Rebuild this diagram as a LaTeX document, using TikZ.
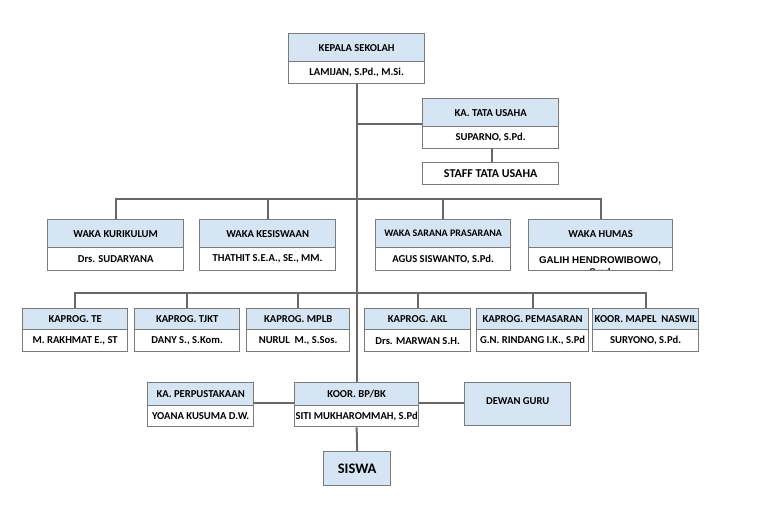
\documentclass[tikz,border=0pt]{standalone}
\usepackage{fontspec}
\setmainfont{Carlito}
\newfontfamily\arialfont{Liberation Sans}
\definecolor{hdr}{HTML}{D5E5F3}
\definecolor{bdr}{HTML}{7A7A7A}
\definecolor{lnc}{HTML}{686868}
\tikzset{
  boxpart/.style={draw=bdr, line width=1.3pt, inner sep=0pt, anchor=north west, align=center, font=\fontsize{10.6}{12}\selectfont\bfseries},
  conn/.style={draw=lnc, line width=2pt},
}
% \orgbox{name}{x1}{y1}{x2}{ydiv}{y2}{title}{person}
\newcommand{\orgbox}[8]{%
  \pgfmathsetmacro{\bw}{#4-#2}%
  \pgfmathsetmacro{\hh}{#5-#3}%
  \pgfmathsetmacro{\bh}{#6-#5}%
  \node[boxpart, fill=hdr, minimum width=\bw pt, minimum height=\hh pt] (#1-h) at (#2,#3) {#7};
  \node[boxpart, fill=white, minimum width=\bw pt, minimum height=\bh pt] (#1-b) at (#2,#5) {#8};
}
\begin{document}
\begin{tikzpicture}[x=1pt,y=-1pt]
\useasboundingbox (0,0) rectangle (768,506);
\coordinate (wrow) at (356,199);
\coordinate (krow) at (356,293);
\coordinate (trow) at (356,124);
\coordinate (brow) at (356,403);

\orgbox{ks}{288}{33}{424}{61}{83}{KEPALA SEKOLAH}{LAMIJAN, S.Pd., M.Si.}
\orgbox{tu}{422}{98}{558}{126}{148}{KA. TATA USAHA}{SUPARNO, S.Pd.}
\node[boxpart, fill=white, minimum width=136pt, minimum height=22pt, font=\fontsize{12}{13}\selectfont\bfseries] (st) at (422,162) {STAFF TATA USAHA};

\orgbox{wk}{47}{219}{183}{247}{270}{WAKA KURIKULUM}{Drs. SUDARYANA}
\orgbox{wks}{199}{219}{335}{247}{270}{WAKA KESISWAAN}{THATHIT S.E.A., SE., MM.}
\orgbox{wsp}{375}{219}{510}{247}{270}{\fontsize{10}{12}\selectfont WAKA SARANA PRASARANA}{AGUS SISWANTO, S.Pd.}
\orgbox{wh}{528}{219}{672}{247}{270}{WAKA HUMAS}{}
\begin{scope}
\clip (528,247) rectangle (672,269.3);
\node[font=\arialfont\fontsize{9.8}{11.5}\selectfont\bfseries, align=center, anchor=north, inner sep=0pt] (whn) at (600,256.5) {GALIH HENDROWIBOWO,\\S.pd};
\end{scope}

\orgbox{kte}{22}{308}{127}{329}{351}{KAPROG. TE}{M. RAKHMAT E., ST}
\orgbox{ktj}{134}{308}{239}{329}{351}{KAPROG. TJKT}{DANY S., S.Kom.}
\orgbox{kmp}{246}{308}{349}{329}{351}{KAPROG. MPLB}{NURUL~ M., S.Sos.}
\orgbox{kak}{364}{308}{470}{329}{351}{KAPROG. AKL}{Drs. MARWAN S.H.}
\orgbox{kpm}{476}{308}{588}{329}{351}{KAPROG. PEMASARAN}{G.N. RINDANG I.K., S.Pd}
\orgbox{kns}{592}{308}{698}{329}{351}{KOOR. MAPEL~ NASWIL}{SURYONO, S.Pd.}

\orgbox{pp}{147}{382}{253}{405}{426}{KA. PERPUSTAKAAN}{YOANA KUSUMA D.W.}
\orgbox{bp}{294}{382}{418}{405}{426}{KOOR. BP/BK}{SITI MUKHAROMMAH, S.Pd}
\node[boxpart, fill=hdr, minimum width=106pt, minimum height=43pt] (dg) at (464,382) {DEWAN GURU\\[-5pt]~};
\node[boxpart, fill=hdr, minimum width=67pt, minimum height=34pt, font=\fontsize{14.5}{16}\selectfont\bfseries] (sw) at (323,451) {SISWA};

\draw[conn] (ks-b.south) -- (bp-h.north);
\draw[conn] (trow) -- (trow -| tu-h.west);
\draw[conn] (tu-b.south -| 492,0) -- (st.north -| 492,0);
\draw[conn] (wk-h.north) |- (wrow) -| (wh-h.north);
\draw[conn] (wks-h.north) -- (wks-h.north |- wrow);
\draw[conn] (wsp-h.north) -- (wsp-h.north |- wrow);
\draw[conn] (kte-h.north) |- (krow) -| (kns-h.north);
\draw[conn] (ktj-h.north) -- (ktj-h.north |- krow);
\draw[conn] (kmp-h.north) -- (kmp-h.north |- krow);
\draw[conn] (kak-h.north) -- (kak-h.north |- krow);
\draw[conn] (kpm-h.north) -- (kpm-h.north |- krow);
\draw[conn] (brow -| pp-h.east) -- (brow -| bp-h.west);
\draw[conn] (brow -| bp-h.east) -- (brow -| dg.west);
\draw[conn] (bp-b.south) -- (sw.north);
\end{tikzpicture}
\end{document}
